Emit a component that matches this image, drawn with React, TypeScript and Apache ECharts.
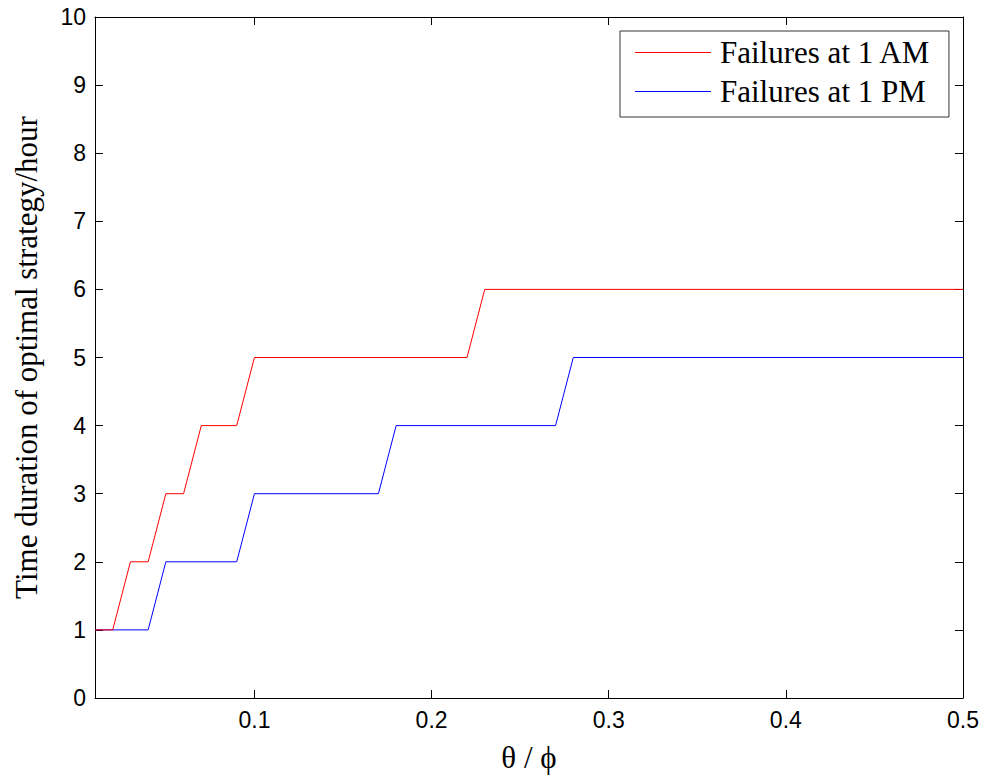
import React, { useEffect, useRef } from "react";
import * as echarts from "echarts";

const amX = [0.01, 0.02, 0.03, 0.04, 0.05, 0.06, 0.07, 0.09, 0.1, 0.22, 0.23, 0.5];
const amY = [1, 1, 2, 2, 3, 3, 4, 4, 5, 5, 6, 6];
const pmX = [0.01, 0.04, 0.05, 0.09, 0.1, 0.17, 0.18, 0.27, 0.28, 0.5];
const pmY = [1, 1, 2, 2, 3, 3, 4, 4, 5, 5];
const xTicks = [0.1, 0.2, 0.3, 0.4, 0.5];
const seriesNames = ["Failures at 1 AM", "Failures at 1 PM"];

const SERIF = "'Liberation Serif', 'Times New Roman', serif";
const SANS = "'Liberation Sans', Arial, sans-serif";

export default function App() {
  const ref = useRef<HTMLDivElement>(null);
  useEffect(() => {
    if (!ref.current) return;
    const chart = echarts.init(ref.current, null, { renderer: "svg" });
    const axisLine = { show: true, onZero: false, lineStyle: { color: "#000", width: 1 } };
    const tick = { show: true, inside: true, length: 8, lineStyle: { color: "#000" } };
    chart.setOption({
      animation: false,
      backgroundColor: "#fff",
      grid: { left: 95, right: 35, top: 17, bottom: 76 },
      legend: {
        left: 620,
        top: 31,
        orient: "vertical",
        data: seriesNames.map((n) => ({ name: n, icon: "rect" })),
        backgroundColor: "#fff",
        borderColor: "#333",
        borderWidth: 1,
        borderRadius: 0,
        padding: [6, 18, 10, 15],
        itemWidth: 76,
        itemHeight: 1.2,
        itemGap: 8,
        textStyle: { fontFamily: SERIF, fontSize: 31, color: "#000", padding: [0, 0, 0, 4] },
      },
      xAxis: [
        {
          type: "value",
          min: 0.01,
          max: 0.5,
          position: "bottom",
          name: "θ / ϕ",
          nameLocation: "middle",
          nameGap: 44,
          nameTextStyle: { fontFamily: SERIF, fontSize: 31, color: "#000" },
          axisLine,
          axisTick: { ...tick, customValues: xTicks },
          axisLabel: {
            customValues: xTicks,
            fontFamily: SANS,
            fontSize: 23,
            color: "#000",
            margin: 10,
            formatter: (v: number) => String(Math.round(v * 10) / 10),
          },
          splitLine: { show: false },
        },
        {
          type: "value",
          min: 0.01,
          max: 0.5,
          position: "top",
          axisLine,
          axisTick: { ...tick, customValues: xTicks },
          axisLabel: { show: false },
          splitLine: { show: false },
        },
      ],
      yAxis: [
        {
          type: "value",
          min: 0,
          max: 10,
          interval: 1,
          position: "left",
          name: "Time duration of optimal strategy/hour",
          nameLocation: "middle",
          nameGap: 53,
          nameTextStyle: { fontFamily: SERIF, fontSize: 31, color: "#000" },
          axisLine,
          axisTick: tick,
          axisLabel: { fontFamily: SANS, fontSize: 23, color: "#000", margin: 9 },
          splitLine: { show: false },
        },
        {
          type: "value",
          min: 0,
          max: 10,
          interval: 1,
          position: "right",
          axisLine,
          axisTick: tick,
          axisLabel: { show: false },
          splitLine: { show: false },
        },
      ],
      series: [
        {
          name: seriesNames[0],
          type: "line",
          data: amX.map((x, i) => [x, amY[i]]),
          symbol: "none",
          lineStyle: { color: "#ff0000", width: 1 },
          itemStyle: { color: "#ff0000" },
          z: 3,
        },
        {
          name: seriesNames[1],
          type: "line",
          data: pmX.map((x, i) => [x, pmY[i]]),
          symbol: "none",
          lineStyle: { color: "#0000ff", width: 1 },
          itemStyle: { color: "#0000ff" },
          z: 2,
        },
      ],
    });
    return () => chart.dispose();
  }, []);
  return <div ref={ref} style={{ width: 998, height: 778, position: "absolute", left: 0, top: 0 }} />;
}
